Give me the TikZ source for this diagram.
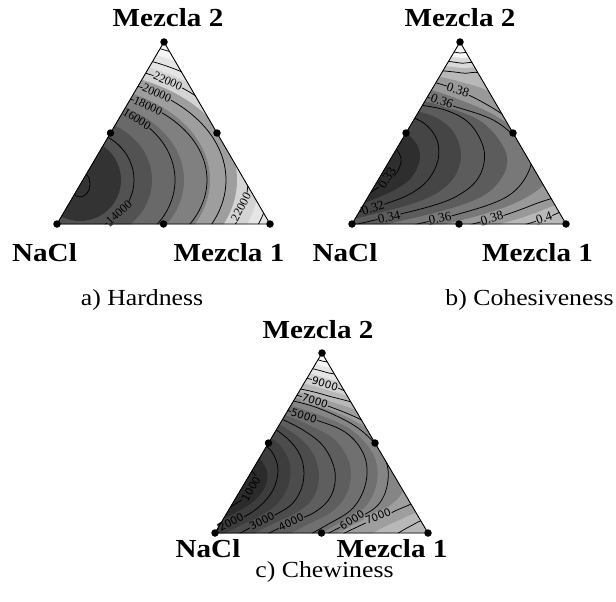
\documentclass[tikz,border=0pt]{standalone}
\usepackage{graphicx}
\usepackage{fontspec}
\setmainfont{Liberation Serif}
\newfontfamily\sansc{DejaVu Sans}
\usetikzlibrary{calc}
\newcommand\wide[1]{\scalebox{1.12}[1]{#1}}
\newcommand\defcurve[2]{\foreach \xx/\yy [count=\ii] in {#2} {\coordinate (#1-\ii) at (\xx,\yy);}}
\newcommand\midcurve[3]{\foreach \ii in {1,...,8} {\coordinate (#1-\ii) at ($(#2-\ii)!0.5!(#3-\ii)$);}}
\newcommand\ccurve[1]{plot[smooth,tension=0.6] coordinates {(#1-1) (#1-2) (#1-3) (#1-4) (#1-5) (#1-6) (#1-7) (#1-8)}}
\newcommand\fillcurve[3]{\fill[#2] \ccurve{#1} -- (#3 |- #1-8) -- (#3 |- #1-1) -- cycle;}
\begin{document}
\begin{tikzpicture}[x=1pt,y=-1pt,
  cline/.style={line width=0.75pt},
  edge/.style={line width=0.9pt,line join=round},
  vdot/.style={circle,fill=black,inner sep=0pt,minimum size=7.5pt},
  big/.style={font=\fontsize{26}{30}\selectfont\bfseries,inner sep=0pt,anchor=base},
  capt/.style={font=\fontsize{23}{27}\selectfont,inner sep=0pt,anchor=base},
  lab/.style={font=\fontsize{12}{13}\selectfont,inner sep=0.4pt},
  labb/.style={font=\fontsize{13}{14}\selectfont,inner sep=0.4pt},
  labc/.style={font=\sansc\fontsize{10.5}{12}\selectfont,inner sep=0.4pt}]
\useasboundingbox (0,0) rectangle (616,602);
\fill[white] (0,0) rectangle (616,602);

% ---------------- (a) Hardness ----------------
\coordinate (aL) at (57,224); \coordinate (aR) at (270,224); \coordinate (aT) at (164,42);
\begin{scope}
\clip (aL) -- (aT) -- (aR) -- cycle;
\fill[black!4] (0,0) rectangle (300,260);
\foreach \rx/\ry/\c in {200/135/10, 179/122/17, 157/109/38, 130/94/50, 104/80/59, 72/62/68, 41/41/80}
  \fill[black!\c] (80,180) ellipse [x radius=\rx, y radius=\ry];
\foreach \rx/\ry in {54/50, 95/76, 127/88, 146/102, 168/116, 190/128, 210/142}
  \draw[cline] (80,180) ellipse [x radius=\rx, y radius=\ry];
\draw[cline] (80,184) ellipse [x radius=10, y radius=13];
\end{scope}
\node[lab,fill=black!17,rotate=-23] (a22t) at (168,81) {22000};
\node[lab,fill=black!38,rotate=-23] (a20) at (157,93) {20000};
\node[lab,fill=black!50,rotate=-24] (a18) at (148,106) {18000};
\node[lab,fill=black!59,rotate=-32] (a16) at (137,119) {16000};
\node[lab,fill=black!68,rotate=42] (a14) at (119,213) {14000};
\node[lab,fill=black!17,rotate=62] (a22b) at (241,207) {22000};
\draw[edge] (aL) -- (aT) -- (aR) -- cycle;
\node[vdot] (daL) at (aL) {}; \node[vdot] (daR) at (aR) {}; \node[vdot] (daT) at (aT) {};
\node[vdot] (daB) at ($(aL)!0.5!(aR)$) {};
\node[vdot] (daW) at ($(aL)!0.5!(aT)$) {};
\node[vdot] (daE) at ($(aR)!0.5!(aT)$) {};
\node[big] (aM2) at (168,27) {\wide{Mezcla 2}};
\node[big] (aNa) at (44.5,261) {\wide{NaCl}};
\node[big] (aM1) at (229,261) {\wide{Mezcla 1}};
\node[capt] (acap) at (142,305) {\wide{a) Hardness}};

% ---------------- (b) Cohesiveness ----------------
\coordinate (bL) at (352,224); \coordinate (bR) at (566,224); \coordinate (bT) at (460,42);
\coordinate (Wb) at (300,0);
\defcurve{B33}{390/143, 397/150, 401/158, 400/166, 395/175, 386/182, 376/189, 362/198}
\defcurve{B32}{405/114, 425/124, 437/140, 438/160, 428/180, 410/194, 385/204, 352/214}
\defcurve{B34}{412/104, 445/110, 470/124, 484/150, 480/175, 462/193, 428/207, 340/228}
\defcurve{B36}{418/94, 450/105, 495/121, 525/148, 530/168, 508/196, 455/215, 380/232}
\defcurve{B38}{425/80, 460/91, 505/116, 560/160, 565/190, 535/204, 492/219, 430/234}
\defcurve{B40}{432/70, 462/73, 495/80, 580/150, 590/200, 565/210, 543/219, 500/232}
\defcurve{B42}{438/60, 460/63, 490/68, 590/120, 620/200, 600/225, 580/240, 560/250}
\defcurve{B44}{444/51, 460/53, 485/58, 600/110, 640/200, 620/240, 590/250, 560/255}
\midcurve{bm1}{B33}{B32}
\midcurve{bm2}{B32}{B34}
\midcurve{bm3}{B34}{B36}
\midcurve{bm4}{B36}{B38}
\midcurve{bm5}{B38}{B40}
\midcurve{bm6}{B40}{B42}
\midcurve{bm7}{B42}{B44}
\begin{scope}
\clip (bL) -- (bT) -- (bR) -- cycle;
\fill[black!4] (300,0) rectangle (616,260);
\fillcurve{bm7}{black!15}{Wb}
\fillcurve{bm6}{black!28}{Wb}
\fillcurve{bm5}{black!40}{Wb}
\fillcurve{bm4}{black!53}{Wb}
\fillcurve{bm3}{black!64}{Wb}
\fillcurve{bm2}{black!73}{Wb}
\fillcurve{bm1}{black!82}{Wb}
\foreach \n in {B33,B32,B34,B36,B38,B40,B42,B44} \draw[cline] \ccurve{\n};
\end{scope}
\node[labb,fill=black!82,rotate=58] (b33) at (387,178) {0.33};
\node[labb,fill=black!73,rotate=18] (b32) at (373,208) {0.32};
\node[labb,fill=black!64,rotate=12] (b34) at (389,217) {0.34};
\node[labb,fill=black!53,rotate=-20] (b36t) at (442,101) {0.36};
\node[labb,fill=black!53,rotate=11] (b36b) at (440,218) {0.36};
\node[labb,fill=black!40,rotate=-18] (b38t) at (458,90) {0.38};
\node[labb,fill=black!40,rotate=16] (b38b) at (492,218) {0.38};
\node[labb,fill=black!28,rotate=18] (b40) at (544,218) {0.4};
\draw[edge] (bL) -- (bT) -- (bR) -- cycle;
\node[vdot] (dbL) at (bL) {}; \node[vdot] (dbR) at (bR) {}; \node[vdot] (dbT) at (bT) {};
\node[vdot] (dbB) at ($(bL)!0.5!(bR)$) {};
\node[vdot] (dbW) at ($(bL)!0.5!(bT)$) {};
\node[vdot] (dbE) at ($(bR)!0.5!(bT)$) {};
\node[big] (bM2) at (460,27) {\wide{Mezcla 2}};
\node[big] (bNa) at (345,261) {\wide{NaCl}};
\node[big] (bM1) at (537.5,261) {\wide{Mezcla 1}};
\node[capt] (bcap) at (529.5,305) {\wide{b) Cohesiveness}};

% ---------------- (c) Chewiness ----------------
\coordinate (cL) at (215,533); \coordinate (cR) at (428,533); \coordinate (cT) at (322,353);
\coordinate (Wc) at (150,0);
\defcurve{C1}{243/465, 253/472, 257/480, 255/488, 249/495, 240/501, 232/506, 222/513}
\defcurve{C2}{258/440, 272/452, 278/470, 273/490, 260/506, 244/517, 228/525, 205/534}
\defcurve{C3}{268/424, 290/441, 302/460, 303/483, 293/503, 275/515, 257/524, 228/540}
\defcurve{C4}{275/416, 303/430, 324/447, 335/472, 331/496, 315/512, 290/523, 255/540}
\defcurve{C5}{280/408, 310/418, 345/432, 364/455, 366/482, 353/508, 325/526, 290/545}
\defcurve{C6}{284/399, 318/408, 358/428, 383/455, 388/480, 378/505, 350/522, 315/540}
\defcurve{C7}{286/392, 320/403, 370/425, 405/460, 420/495, 395/511, 370/521, 330/540}
\defcurve{C8}{290/387, 325/395, 380/415, 430/470, 440/510, 418/522, 400/532, 380/545}
\defcurve{C9}{298/376, 326/384, 360/400, 440/460, 460/520, 440/545, 420/555, 400/560}
\defcurve{C10}{300/366, 325/372, 360/385, 450/450, 470/520, 450/550, 430/560, 410/565}
\defcurve{C11}{305/357, 322/361, 350/372, 460/440, 480/520, 460/555, 440/565, 420/570}
\midcurve{cm1}{C1}{C2}
\midcurve{cm2}{C2}{C3}
\midcurve{cm3}{C3}{C4}
\midcurve{cm4}{C4}{C5}
\midcurve{cm5}{C5}{C6}
\midcurve{cm6}{C6}{C7}
\midcurve{cm7}{C7}{C8}
\midcurve{cm8}{C8}{C9}
\midcurve{cm9}{C9}{C10}
\midcurve{cm10}{C10}{C11}
\begin{scope}
\clip (cL) -- (cT) -- (cR) -- cycle;
\fill[black!4] (150,330) rectangle (480,580);
\fillcurve{cm10}{black!10}{Wc}
\fillcurve{cm9}{black!18}{Wc}
\fillcurve{cm8}{black!28}{Wc}
\fillcurve{cm7}{black!38}{Wc}
\fillcurve{cm6}{black!48}{Wc}
\fillcurve{cm5}{black!56}{Wc}
\fillcurve{cm4}{black!63}{Wc}
\fillcurve{cm3}{black!70}{Wc}
\fillcurve{cm2}{black!76}{Wc}
\fillcurve{cm1}{black!83}{Wc}
\foreach \n in {C1,C2,C3,C4,C5,C6,C7,C8,C9,C10,C11} \draw[cline] \ccurve{\n};
\end{scope}
\node[labc,fill=black!18,rotate=-17] (c9) at (325,384) {9000};
\node[labc,fill=black!38,rotate=-18] (c7t) at (315,401) {7000};
\node[labc,fill=black!56,rotate=-18] (c5) at (304,416) {5000};
\node[labc,fill=black!83,rotate=60] (c1) at (251,489) {1000};
\node[labc,fill=black!76,rotate=27] (c2) at (231,522) {2000};
\node[labc,fill=black!70,rotate=28] (c3) at (262,521) {3000};
\node[labc,fill=black!63,rotate=25] (c4) at (291,522) {4000};
\node[labc,fill=black!48,rotate=32] (c6) at (352,520) {6000};
\node[labc,fill=black!38,rotate=22] (c7b) at (378,516) {7000};
\draw[edge] (cL) -- (cT) -- (cR) -- cycle;
\node[vdot] (dcL) at (cL) {}; \node[vdot] (dcR) at (cR) {}; \node[vdot] (dcT) at (cT) {};
\node[vdot] (dcB) at ($(cL)!0.5!(cR)$) {};
\node[vdot] (dcW) at ($(cL)!0.5!(cT)$) {};
\node[vdot] (dcE) at ($(cR)!0.5!(cT)$) {};
\node[big] (cM2) at (318,338) {\wide{Mezcla 2}};
\node[big] (cNa) at (208,557) {\wide{NaCl}};
\node[big] (cM1) at (392,557) {\wide{Mezcla 1}};
\node[capt] (ccap) at (324.5,577) {\wide{c) Chewiness}};
\end{tikzpicture}
\end{document}
